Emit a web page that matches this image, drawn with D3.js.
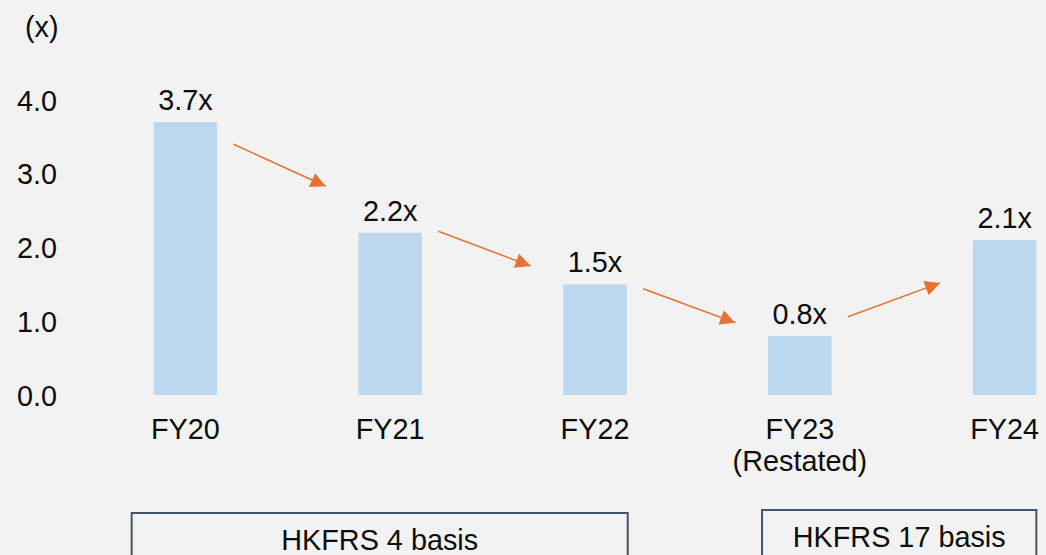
<!DOCTYPE html>
<html>
<head>
<meta charset="utf-8">
<script src="https://cdn.jsdelivr.net/npm/d3@7"></script>
<style>
  html, body { margin: 0; padding: 0; background: #f2f2f2; }
  svg { display: block; font-family: "Liberation Sans", Arial, sans-serif; }
</style>
</head>
<body>
<svg id="chart" width="1046" height="555"></svg>
<script>
// ---- data ----
const categories = ["FY20", "FY21", "FY22", "FY23", "FY24"];
const subLabels = ["", "", "", "(Restated)", ""];
const values = [3.7, 2.2, 1.5, 0.8, 2.1];
const valueLabels = ["3.7x", "2.2x", "1.5x", "0.8x", "2.1x"];
const yTicks = [0, 1, 2, 3, 4];
const yUnit = "(x)";
// trend arrows: from category index, start value, end value
const arrowFrom = [0, 1, 2, 3];
const arrowStartVal = [3.40, 2.22, 1.44, 1.06];
const arrowEndVal = [2.83, 1.75, 0.98, 1.52];
// basis groups: first and last category index
const basisLabels = ["HKFRS 4 basis", "HKFRS 17 basis"];
const basisStart = [0, 3];
const basisEnd = [2, 4];

// ---- layout ----
const svg = d3.select("#chart");
const W = 1046, H = 555;
const FS = 28.8;
const xOuter = [83, 1107];
const x = d3.scaleBand().domain(categories).range(xOuter).paddingInner(0.69).paddingOuter(0.345);
const y = d3.scaleLinear().domain([0, 4]).range([395, 100]);
const step = x.step();
const cx = c => x(c) + x.bandwidth() / 2;

svg.append("rect").attr("width", W).attr("height", H).attr("fill", "#f2f2f2");

// y axis (labels only)
const yAxis = d3.axisLeft(y).tickValues(yTicks).tickFormat(d3.format(".1f")).tickSize(0).tickPadding(0);
const gy = svg.append("g").attr("transform", "translate(57,0)").call(yAxis);
gy.select(".domain").remove();
gy.selectAll("text").attr("font-size", FS).attr("fill", "#0d0d0d")
  .attr("font-family", "'Liberation Sans', Arial, sans-serif").attr("dy", "0.35em");

svg.append("text").attr("x", 25).attr("y", 37).attr("font-size", FS).attr("fill", "#0d0d0d").text(yUnit);

// bars
svg.selectAll(".bar").data(values).join("rect").attr("class", "bar")
  .attr("x", (d, i) => x(categories[i]))
  .attr("width", x.bandwidth())
  .attr("y", d => y(d))
  .attr("height", d => y(0) - y(d))
  .attr("fill", "#bdd7ee");

// value labels
svg.selectAll(".vl").data(values).join("text").attr("class", "vl")
  .attr("x", (d, i) => cx(categories[i]))
  .attr("y", d => y(d) - 12)
  .attr("text-anchor", "middle").attr("font-size", FS).attr("fill", "#0d0d0d")
  .text((d, i) => valueLabels[i]);

// category labels (x axis)
const xAxis = d3.axisBottom(x).tickSize(0).tickPadding(0);
const gx = svg.append("g").attr("transform", `translate(0,${y(0)})`).call(xAxis);
gx.select(".domain").remove();
gx.selectAll("text").remove();
categories.forEach((c, i) => {
  svg.append("text").attr("x", cx(c)).attr("y", y(0) + 44)
    .attr("text-anchor", "middle").attr("font-size", FS).attr("fill", "#0d0d0d").text(c);
  if (subLabels[i]) {
    svg.append("text").attr("x", cx(c)).attr("y", y(0) + 76)
      .attr("text-anchor", "middle").attr("font-size", FS).attr("fill", "#0d0d0d").text(subLabels[i]);
  }
});

// arrows
const defs = svg.append("defs");
defs.append("marker").attr("id", "ah").attr("viewBox", "0 0 10 10")
  .attr("refX", 10).attr("refY", 5).attr("markerWidth", 17).attr("markerHeight", 15)
  .attr("markerUnits", "userSpaceOnUse").attr("orient", "auto")
  .append("path").attr("d", "M0,0 L10,5 L0,10 Z").attr("fill", "#e97132");

svg.selectAll(".arrow").data(arrowFrom).join("line").attr("class", "arrow")
  .attr("x1", (d, i) => cx(categories[d]) + 0.235 * step)
  .attr("y1", (d, i) => y(arrowStartVal[i]))
  .attr("x2", (d, i) => cx(categories[d]) + 0.685 * step)
  .attr("y2", (d, i) => y(arrowEndVal[i]))
  .attr("stroke", "#e97132").attr("stroke-width", 1.5)
  .attr("marker-end", "url(#ah)");

// basis boxes
basisLabels.forEach((lab, i) => {
  const x0 = x(categories[basisStart[i]]) - (i === 0 ? 22 : 6);
  const x1 = x(categories[basisEnd[i]]) + x.bandwidth() + (i === 0 ? 1 : 0);
  const top = i === 0 ? 513 : 510;
  svg.append("rect").attr("x", x0).attr("y", top).attr("width", x1 - x0).attr("height", 80)
    .attr("fill", "none").attr("stroke", "#44546a").attr("stroke-width", 2);
  svg.append("text").attr("x", (x0 + x1) / 2).attr("y", i === 0 ? 550 : 547)
    .attr("text-anchor", "middle").attr("font-size", FS).attr("fill", "#0d0d0d").text(lab);
});
</script>
</body>
</html>
